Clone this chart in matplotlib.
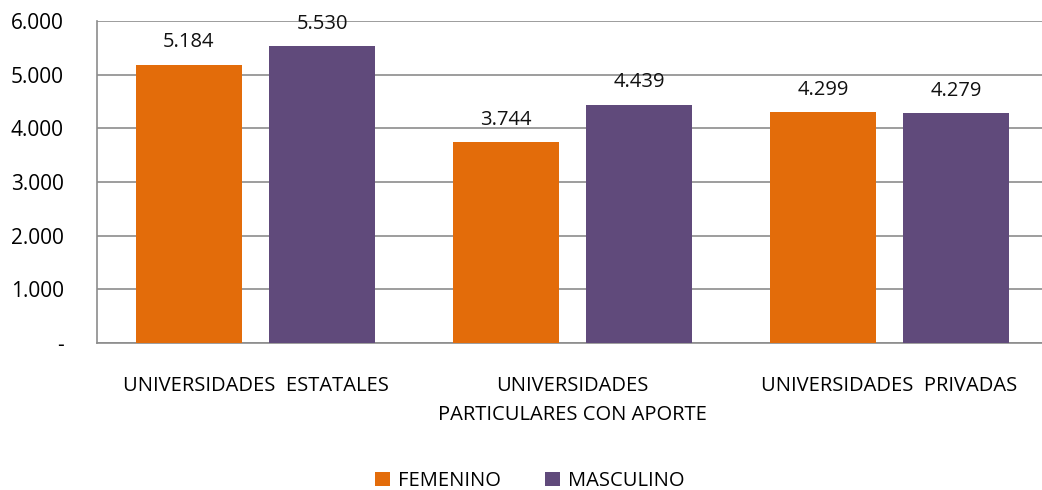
import matplotlib
matplotlib.use("Agg")
import matplotlib.pyplot as plt
import numpy as np

categories = ["UNIVERSIDADES  ESTATALES", "UNIVERSIDADES\nPARTICULARES CON APORTE", "UNIVERSIDADES  PRIVADAS"]
femenino = [5184, 3744, 4299]
masculino = [5530, 4439, 4279]
yticks = [0, 1000, 2000, 3000, 4000, 5000, 6000]
ytick_labels = ["-", "1.000", "2.000", "3.000", "4.000", "5.000", "6.000"]

plt.rcParams['font.family'] = ['Open Sans', 'DejaVu Sans']

fig = plt.figure(figsize=(10.42, 4.90), dpi=100)
ax = fig.add_axes([97/1042, 1 - 343/490, 951/1042, 322/490])

x = np.arange(len(categories))
w = 0.333
off = 0.21
orange = "#E36C0A"
purple = "#604A7B"
b1 = ax.bar(x - off, femenino, w, color=orange, label="FEMENINO", zorder=3)
b2 = ax.bar(x + off, masculino, w, color=purple, label="MASCULINO", zorder=3)

def fmt(v):
    return f"{v:,}".replace(",", ".")

for bars, vals in ((b1, femenino), (b2, masculino)):
    for b, v in zip(bars, vals):
        ax.annotate(fmt(v), (b.get_x() + b.get_width() / 2, v), xytext=(0, 9),
                    textcoords="offset points", ha="center", va="bottom", fontsize=14.5, color="#111111")

ax.set_xlim(-0.5, 2.5)
ax.set_ylim(0, 6000)
ax.set_yticks(yticks)
ax.set_yticklabels(ytick_labels, fontsize=15)
ax.set_xticks(x)
ax.set_xticklabels(categories, fontsize=14.5, linespacing=1.6, va="top")
ax.tick_params(axis="x", length=0, pad=24)
ax.tick_params(axis="y", length=0, pad=24)
ax.grid(axis="y", color="#8c8c8c", linewidth=1.2, zorder=0)
for s in ["top", "right"]:
    ax.spines[s].set_visible(False)
for s in ["left", "bottom"]:
    ax.spines[s].set_color("#8c8c8c")
    ax.spines[s].set_linewidth(1.2)

fig.legend(handles=[b1, b2], loc="center", bbox_to_anchor=(530/1042, 1 - 481/490), ncol=2,
           frameon=False, fontsize=14.5, handlelength=0.75, handleheight=0.75, columnspacing=2.2, handletextpad=0.4)

fig.savefig("out.png", dpi=100)
